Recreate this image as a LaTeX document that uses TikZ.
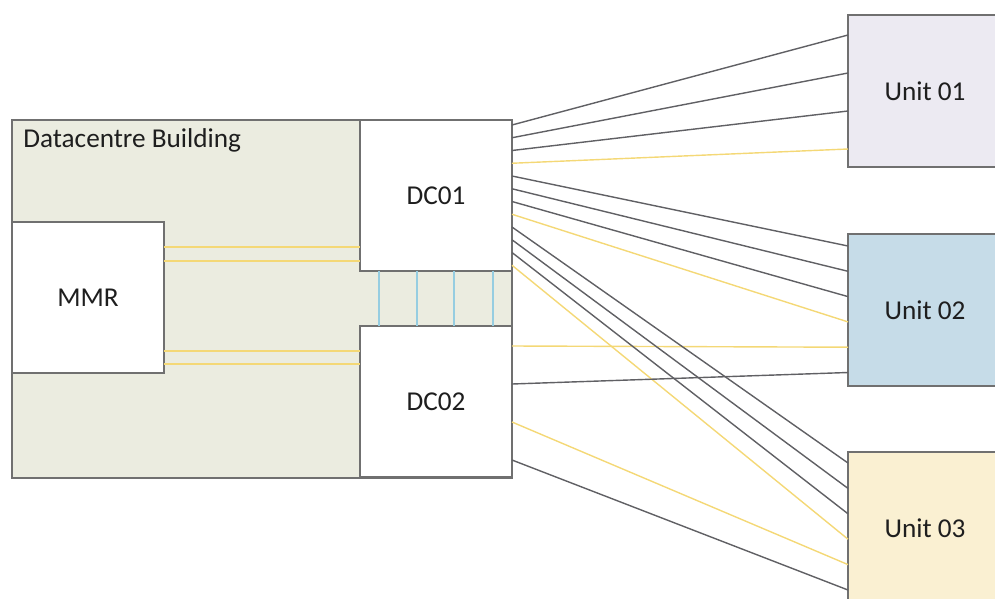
\documentclass[tikz,border=0pt]{standalone}
\usepackage{fontspec}
\setmainfont{Carlito}
\usetikzlibrary{calc}
\definecolor{buildfill}{RGB}{235,236,224}
\definecolor{edgegray}{RGB}{112,112,112}
\definecolor{linkgray}{RGB}{96,96,100}
\definecolor{linkyellow}{RGB}{244,216,118}
\definecolor{linkblue}{RGB}{150,205,225}
\definecolor{unitlilac}{RGB}{236,234,242}
\definecolor{unitblue}{RGB}{198,220,232}
\definecolor{unitcream}{RGB}{250,240,210}
\definecolor{textdark}{RGB}{30,30,30}

\begin{document}
\begin{tikzpicture}[x=0.02cm, y=-0.02cm,
        font=\fontsize{15.5}{18}\selectfont\color{textdark},
        room/.style={draw=edgegray, line width=0.9pt, fill=white, outer sep=0pt,
            anchor=north west, minimum width=3.04cm, minimum height=3.02cm},
        unitbox/.style={room, minimum width=3.08cm, minimum height=3.04cm},
        link/.style={line width=0.8pt}
    ]
    \clip (0,0) rectangle (995,599);

    % building and rooms
    \node[room, fill=buildfill, minimum width=10cm, minimum height=7.16cm] (bldg) at (12,120) {};
    \node[anchor=base west, inner sep=0pt] (bldgtitle) at (23,147) {Datacentre Building};
    \node[room] (mmr) at (12,222) {MMR};
    \node[room] (dc01) at (360,120) {DC01};
    \node[room] (dc02) at (360,326) {DC02};

    \node[unitbox, fill=unitlilac] (unit1) at (848,15) {Unit 01};
    \node[unitbox, fill=unitblue] (unit2) at (848,234) {Unit 02};
    \node[unitbox, fill=unitcream] (unit3) at (848,452) {Unit 03};

    % ports
    \foreach \i in {0,...,11}
        \coordinate (dcA\i) at ($(dc01.north east)+(0,{5+12.75*\i})$);
    \foreach \i in {0,...,3} {
        \coordinate (dcB\i) at ($(dc02.north east)+(0,{20+38*\i})$);
        \coordinate (uA\i) at ($(unit1.north west)+(0,{20+38*\i})$);
    }
    \foreach \i in {0,...,5} {
        \coordinate (uB\i) at ($(unit2.north west)+(0,{12+25.3*\i})$);
        \coordinate (uC\i) at ($(unit3.north west)+(0,{11+25.4*\i})$);
    }
    \foreach \o in {25,39,129,142}
        \coordinate (mm\o) at ($(mmr.north east)+(0,\o)$);

    % links inside the building
    \foreach \o in {25,39}
        \draw[link, linkyellow] (mm\o) -- (mm\o -| dc01.west);
    \foreach \o in {129,142}
        \draw[link, linkyellow] (mm\o) -- (mm\o -| dc02.west);
    \foreach \x in {19,57,94,133}
        \draw[link, linkblue] ($(dc01.south west)+(\x,0)$) -- ($(dc02.north west)+(\x,0)$);

    % links to the units
    \foreach \s/\t/\c in {dcA3/uA3/linkyellow, dcA7/uB3/linkyellow, dcA11/uC3/linkyellow,
            dcB0/uB4/linkyellow, dcB2/uC4/linkyellow,
            dcA0/uA0/linkgray, dcA1/uA1/linkgray, dcA2/uA2/linkgray,
            dcA4/uB0/linkgray, dcA5/uB1/linkgray, dcA6/uB2/linkgray,
            dcA8/uC0/linkgray, dcA9/uC1/linkgray, dcA10/uC2/linkgray,
            dcB1/uB5/linkgray, dcB3/uC5/linkgray}
        \draw[link, \c] (\s) -- (\t);
\end{tikzpicture}
\end{document}
